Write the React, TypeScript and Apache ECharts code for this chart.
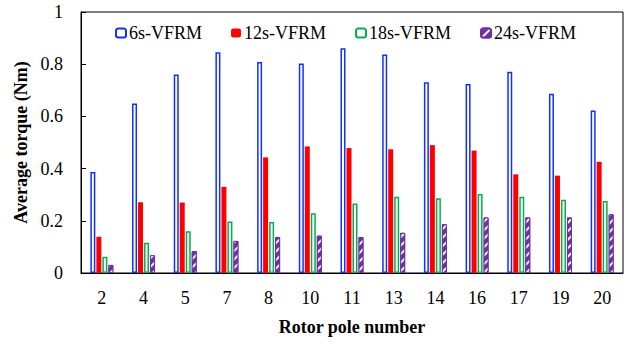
import React, { useEffect, useRef } from "react";
import * as echarts from "echarts";

const poles = ["2", "4", "5", "7", "8", "10", "11", "13", "14", "16", "17", "19", "20"];
const torque6s = [0.387, 0.649, 0.761, 0.846, 0.808, 0.803, 0.861, 0.837, 0.731, 0.724, 0.771, 0.687, 0.623];
const torque12s = [0.139, 0.271, 0.27, 0.33, 0.443, 0.485, 0.479, 0.474, 0.49, 0.469, 0.378, 0.373, 0.426];
const torque18s = [0.062, 0.116, 0.16, 0.197, 0.195, 0.229, 0.266, 0.292, 0.286, 0.303, 0.292, 0.281, 0.276];
const torque24s = [0.031, 0.068, 0.084, 0.123, 0.138, 0.143, 0.138, 0.154, 0.187, 0.213, 0.213, 0.213, 0.225];

const SERIF = "Liberation Serif, DejaVu Serif";

export default function App() {
  const ref = useRef<HTMLDivElement>(null);

  useEffect(() => {
    if (!ref.current) return;
    const chart = echarts.init(ref.current, null, { renderer: "svg" });
    const barBase = { type: "bar" as const, barWidth: 5, barGap: "20%" };
    chart.setOption({
      animation: false,
      backgroundColor: "#fff",
      textStyle: { fontFamily: SERIF },
      grid: {
        left: 81,
        right: 13,
        top: 12,
        bottom: 72,
        show: true,
        borderColor: "#000",
        borderWidth: 1,
      },
      legend: {
        left: 110,
        top: 19,
        width: 520,
        itemWidth: 10,
        itemHeight: 9,
        itemGap: 29,
        textStyle: { fontFamily: SERIF, fontSize: 18, color: "#000", padding: [0, 0, 0, -2] },
      },
      xAxis: {
        type: "category",
        data: poles,
        name: "Rotor pole number",
        nameLocation: "middle",
        nameGap: 45,
        nameTextStyle: { fontFamily: SERIF, fontSize: 18, fontWeight: "bold", color: "#000" },
        axisLine: { lineStyle: { color: "#000", width: 1 } },
        axisTick: { inside: true, length: 5, lineStyle: { color: "#000" } },
        axisLabel: { fontFamily: SERIF, fontSize: 18, color: "#000", margin: 16 },
      },
      yAxis: {
        type: "value",
        min: 0,
        max: 1,
        interval: 0.2,
        name: "Average torque (Nm)",
        nameLocation: "middle",
        nameGap: 45,
        nameTextStyle: { fontFamily: SERIF, fontSize: 18, fontWeight: "bold", color: "#000" },
        splitLine: { show: false },
        axisLine: { show: true, lineStyle: { color: "#000", width: 1 } },
        axisTick: { show: true, inside: true, length: 5, lineStyle: { color: "#000" } },
        axisLabel: { fontFamily: SERIF, fontSize: 18, color: "#000", margin: 18 },
      },
      series: [
        {
          ...barBase,
          name: "6s-VFRM",
          data: torque6s,
          itemStyle: { color: "#fff", borderColor: "#1030ff", borderWidth: 1.5 },
        },
        {
          ...barBase,
          name: "12s-VFRM",
          data: torque12s,
          itemStyle: { color: "#ff0000" },
        },
        {
          ...barBase,
          name: "18s-VFRM",
          data: torque18s,
          itemStyle: { color: "#fff", borderColor: "#00b050", borderWidth: 1.5 },
        },
        {
          ...barBase,
          name: "24s-VFRM",
          data: torque24s,
          itemStyle: {
            color: "#7030a0",
            borderColor: "#7030a0",
            borderWidth: 1,
            decal: {
              symbol: "rect",
              color: "rgba(255,255,255,0.95)",
              dashArrayX: [1, 0],
              dashArrayY: [2, 4],
              rotation: -Math.PI / 4,
            },
          },
        },
      ],
    });
    return () => chart.dispose();
  }, []);

  return (
    <div
      ref={ref}
      style={{ position: "absolute", left: 0, top: 0, width: 636, height: 345 }}
    />
  );
}
